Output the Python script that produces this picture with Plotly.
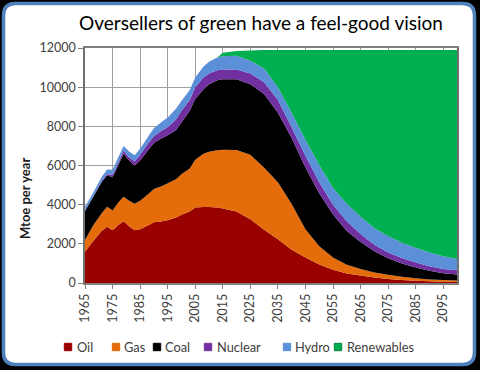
import plotly.graph_objects as go

years = [1965, 1968, 1971, 1973, 1975, 1977, 1979, 1981, 1983, 1985, 1988, 1990, 1993, 1995,
         1998, 2000, 2003, 2005, 2008, 2010, 2013, 2015, 2020, 2025, 2030, 2035, 2040, 2045,
         2050, 2055, 2060, 2065, 2070, 2075, 2080, 2085, 2090, 2095, 2100]

oil = [1600, 2150, 2650, 2870, 2700, 2950, 3150, 2900, 2700, 2750, 2950, 3100, 3150, 3200,
       3350, 3480, 3650, 3850, 3880, 3880, 3850, 3800, 3650, 3250, 2720, 2230, 1700, 1300,
       950, 680, 480, 380, 280, 200, 150, 110, 85, 65, 50]
gas = [600, 800, 900, 1030, 1000, 1150, 1250, 1300, 1350, 1450, 1600, 1700, 1800, 1900,
       1950, 2070, 2200, 2450, 2720, 2820, 2930, 3000, 3140, 3300, 3160, 2920, 2330, 1450,
       930, 620, 450, 340, 260, 220, 170, 130, 100, 85, 80]
coal = [1480, 1450, 1600, 1600, 1700, 1900, 2200, 2050, 1950, 2050, 2250, 2350, 2450, 2450,
        2500, 2650, 2950, 3100, 3300, 3450, 3570, 3600, 3610, 3600, 3770, 3550, 3370, 3150,
        2700, 2200, 1720, 1380, 1080, 840, 680, 550, 435, 350, 300]
nuclear = [0, 20, 50, 70, 120, 120, 150, 170, 200, 300, 350, 350, 400, 400,
           550, 600, 550, 600, 600, 550, 520, 500, 500, 550, 600, 650, 550, 600,
           570, 500, 500, 400, 330, 300, 280, 260, 240, 220, 220]
hydro = [200, 200, 200, 230, 260, 280, 250, 300, 320, 300, 350, 400, 450, 500,
         550, 500, 500, 500, 550, 600, 650, 680, 700, 650, 700, 650, 750, 820,
         880, 850, 900, 900, 850, 840, 780, 750, 700, 640, 580]
renewables = [0, 0, 0, 0, 0, 0, 0, 0, 0, 0, 0, 0, 0, 0,
              0, 0, 0, 0, 0, 0, 0, 180, 250, 520, 950, 1900, 3200, 4580,
              5870, 7050, 7850, 8500, 9100, 9500, 9840, 10100, 10340, 10540, 10670]

series_names = ["Oil", "Gas", "Coal", "Nuclear", "Hydro", "Renewables"]
series_values = [oil, gas, coal, nuclear, hydro, renewables]
colors = ["#990000", "#E46C0A", "#000000", "#7030A0", "#5B8FD8", "#00B050"]

x_ticks = list(range(1965, 2100, 10))
x_tick_labels = [str(v) for v in x_ticks]
y_ticks = list(range(0, 12001, 2000))
y_tick_labels = [str(v) for v in y_ticks]

# plot area in pixels
L, R, T, B = 85, 457, 48, 283
W, H = 480, 370


def px(xp):
    return (xp - L) / (R - L)


def py(yp):
    return (B - yp) / (B - T)


fig = go.Figure()
for name, vals, col in zip(series_names, series_values, colors):
    fig.add_trace(go.Scatter(
        x=years, y=vals, name=name, stackgroup="one", mode="none",
        fillcolor=col, line=dict(width=0), showlegend=False,
        hoverinfo="skip"))

shapes = []
# rounded border
x0, y0, x1, y1, r = 3.5, 3.5, 474.5, 364.5, 12
path = (f"M {px(x0 + r)},{py(y0)} L {px(x1 - r)},{py(y0)} "
        f"Q {px(x1)},{py(y0)} {px(x1)},{py(y0 + r)} "
        f"L {px(x1)},{py(y1 - r)} Q {px(x1)},{py(y1)} {px(x1 - r)},{py(y1)} "
        f"L {px(x0 + r)},{py(y1)} Q {px(x0)},{py(y1)} {px(x0)},{py(y1 - r)} "
        f"L {px(x0)},{py(y0 + r)} Q {px(x0)},{py(y0)} {px(x0 + r)},{py(y0)} Z")
shapes.append(dict(type="path", xref="paper", yref="paper", path=path,
                   fillcolor="white", line=dict(color="#4F81BD", width=3.5),
                   layer="below"))

annotations = []
# manual legend
sq_centers = [68, 116, 157, 208, 287, 338]
text_starts = [75, 122, 163, 215, 293, 345]
leg_y = 347
s = 3.7
for name, col, cx, tx in zip(series_names, colors, sq_centers, text_starts):
    border = "#00803A" if name == "Renewables" else col
    shapes.append(dict(type="rect", xref="paper", yref="paper",
                       x0=px(cx - s), x1=px(cx + s), y0=py(leg_y + s), y1=py(leg_y - s),
                       fillcolor=col, line=dict(color=border, width=1)))
    annotations.append(dict(text=name, xref="paper", yref="paper", x=px(tx), y=py(leg_y),
                            xanchor="left", yanchor="middle", showarrow=False,
                            font=dict(family="Lato", size=12.8, color="#404040")))

annotations.append(dict(text="<b>Mtoe per year</b>", xref="paper", yref="paper",
                        x=px(25), y=py(199), textangle=-90, showarrow=False,
                        xanchor="center", yanchor="middle",
                        font=dict(family="Lato", size=13, color="#202020")))

fig.update_layout(
    width=W, height=H,
    margin=dict(l=L, r=W - R, t=T, b=H - B, pad=0),
    paper_bgcolor="#000000", plot_bgcolor="white",
    title=dict(text="Oversellers of green have a feel-good vision",
               x=px(261), xref="paper", xanchor="center",
               y=1 - 23 / H, yref="container", yanchor="middle",
               font=dict(family="Lato", size=19, color="#000000")),
    shapes=shapes, annotations=annotations,
    showlegend=False,
    xaxis=dict(range=[1965, 2100], tickvals=x_ticks, ticktext=x_tick_labels,
               tickangle=-90, ticks="outside", ticklen=4, tickcolor="#808080",
               showgrid=True, gridcolor="#A0A0A0", gridwidth=1.2,
               showline=True, linecolor="#808080", linewidth=1.5, mirror=True,
               tickfont=dict(family="Lato", size=12.5, color="#404040"),
               zeroline=False),
    yaxis=dict(range=[0, 12000], tickvals=y_ticks, ticktext=y_tick_labels,
               ticks="outside", ticklen=5,
               tickcolor="#808080", showgrid=True, gridcolor="#A0A0A0", gridwidth=1.2,
               showline=True, linecolor="#707070", linewidth=1.5, mirror=True,
               tickfont=dict(family="Lato", size=12.5, color="#404040"),
               zeroline=False),
)

fig.write_html("out.html", config={"displayModeBar": False},
               post_script="document.body.style.margin='0';document.body.style.overflow='hidden';")
